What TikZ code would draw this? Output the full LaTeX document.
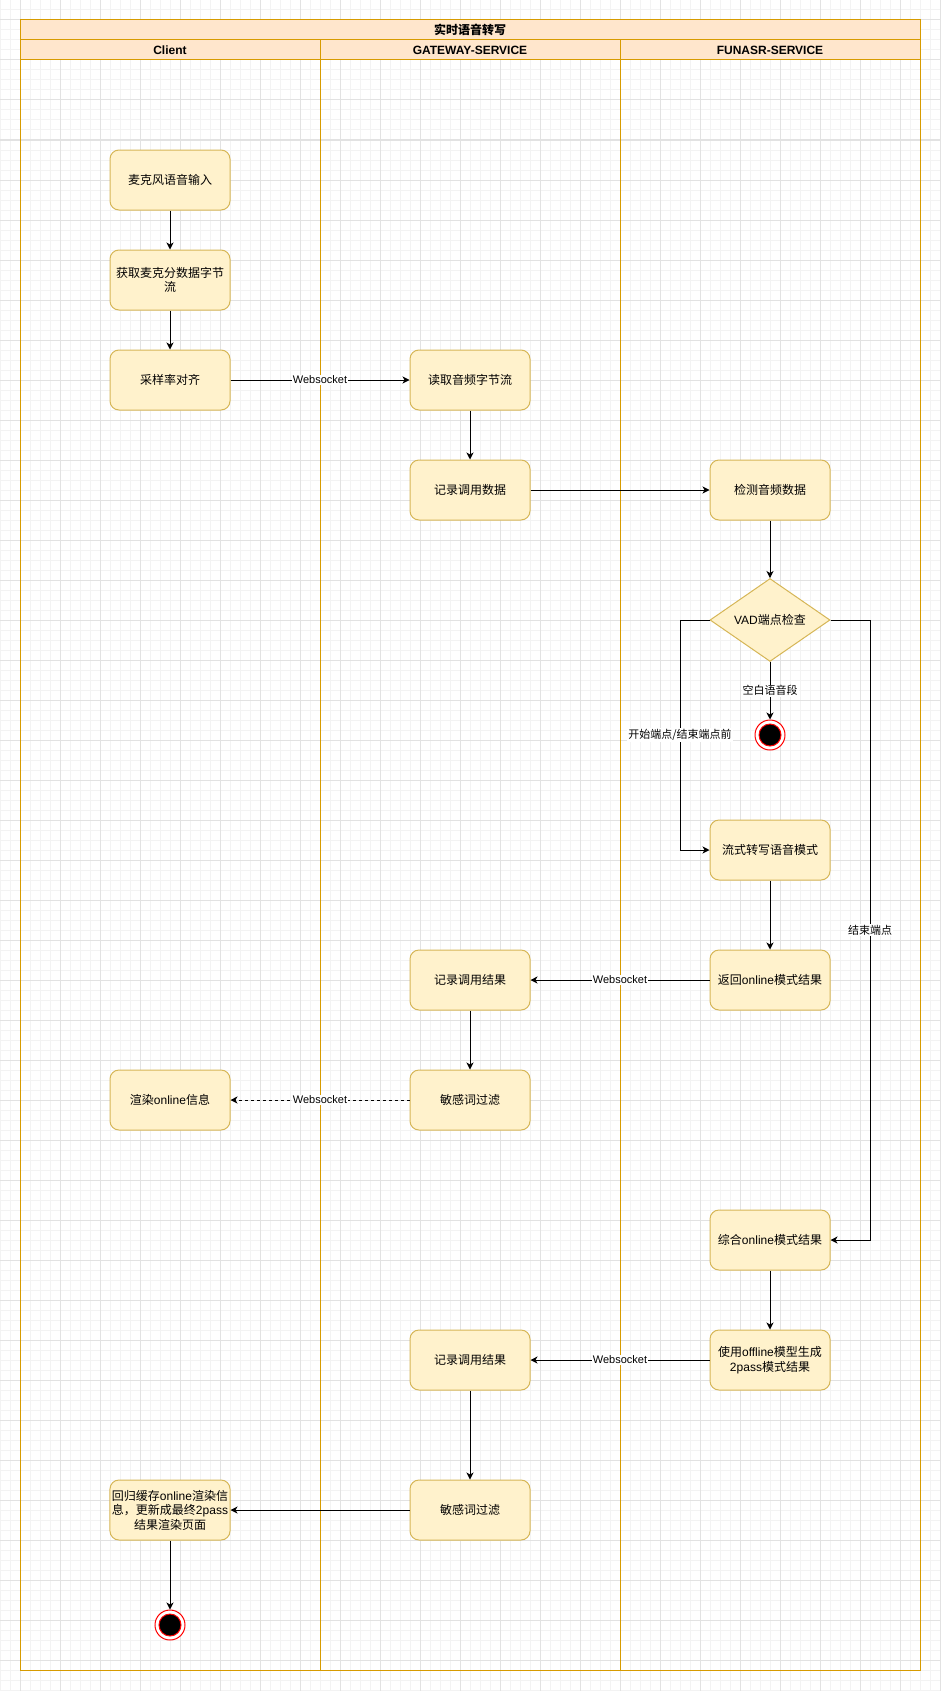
\documentclass[tikz,border=0pt]{standalone}
\usepackage{fontspec}
\setmainfont{Noto Sans CJK SC}
\newfontfamily\latf{Liberation Sans}
\usetikzlibrary{arrows.meta,shapes.geometric}
\definecolor{gridminor}{HTML}{F3F3F3}
\definecolor{gridmajor}{HTML}{E2E2E2}
\definecolor{poolfill}{HTML}{FFE6CC}
\definecolor{poolline}{HTML}{D79B00}
\definecolor{boxfill}{HTML}{FFF2CC}
\definecolor{boxline}{HTML}{D6B656}
\begin{document}
\begin{tikzpicture} [x=1pt, y=-1pt,
    box/.style={draw=boxline, fill=boxfill, line width=1pt, rounded corners=9pt,
      minimum width=120pt, minimum height=60pt, inner sep=2pt, align=center,
      font=\fontsize{12}{14.5}\selectfont},
    decide/.style={draw=boxline, fill=boxfill, line width=1pt, shape=diamond,
      minimum width=120pt, minimum height=80pt, inner sep=0pt,
      font=\fontsize{12}{14.5}\selectfont},
    stopdot/.style={circle, draw=red, fill=white, line width=1pt, minimum size=30pt, inner sep=0pt,
      path picture={\draw[red, line width=1pt, fill=black]
        (path picture bounding box.center) circle (11pt);}},
    flow/.style={-{Stealth[length=7pt, width=7pt, inset=2pt]}, line width=1pt},
    wire/.style={fill=white, inner sep=1pt, font=\fontsize{11}{13}\selectfont},
    lane/.style={font=\latf\bfseries\fontsize{12}{14}\selectfont}]
  \useasboundingbox (0,0) rectangle (941,1691);
  \fill[white] (0,0) rectangle (941,1691);
  \foreach \gx in {0,10,...,940} \draw[gridminor, line width=1pt] (\gx,0) -- (\gx,1691);
  \foreach \gy in {0,10,...,1690} \draw[gridminor, line width=1pt] (0,\gy) -- (941,\gy);
  \foreach \gx in {20,60,...,940} \draw[gridmajor, line width=1pt] (\gx,0) -- (\gx,1691);
  \foreach \gy in {20,60,...,1680} \draw[gridmajor, line width=1pt] (0,\gy) -- (941,\gy);

  \draw[poolline, fill=poolfill, line width=1pt] (20,20) rectangle (920,60);
  \draw[poolline, line width=1pt] (20,40) -- (920,40);
  \draw[poolline, line width=1pt] (20,20) rectangle (920,1670);
  \draw[poolline, line width=1pt] (320,40) -- (320,1670);
  \draw[poolline, line width=1pt] (620,40) -- (620,1670);
  \node[font=\bfseries\fontsize{12}{14}\selectfont] (title) at (470,30) {实时语音转写};
  \node[lane] (client) at (170,50) {Client};
  \node[lane] (gateway) at (470,50) {GATEWAY-SERVICE};
  \node[lane] (funasr) at (770,50) {FUNASR-SERVICE};

  \node[box] (mic) at (170,180) {麦克风语音输入};
  \node[box] (bytes) at (170,280) {获取麦克分数据字节\\流};
  \node[box] (align) at (170,380) {采样率对齐};
  \node[box] (read) at (470,380) {读取音频字节流};
  \node[box] (logdata) at (470,490) {记录调用数据};
  \node[box] (detect) at (770,490) {检测音频数据};
  \node[decide] (vad) at (770,620) {{\latf VAD}端点检查};
  \node[stopdot] (endA) at (770,735) {};
  \node[box] (stream) at (770,850) {流式转写语音模式};
  \node[box] (online) at (770,980) {返回{\latf online}模式结果};
  \node[box] (logres) at (470,980) {记录调用结果};
  \node[box] (filter) at (470,1100) {敏感词过滤};
  \node[box] (render) at (170,1100) {渲染{\latf online}信息};
  \node[box] (merge) at (770,1240) {综合{\latf online}模式结果};
  \node[box] (offline) at (770,1360) {使用{\latf offline}模型生成\\{\latf 2pass}模式结果};
  \node[box] (logres2) at (470,1360) {记录调用结果};
  \node[box] (filter2) at (470,1510) {敏感词过滤};
  \node[box] (final) at (170,1510) {回归缓存{\latf online}渲染信\\息，更新成最终{\latf 2pass}\\结果渲染页面};
  \node[stopdot] (endB) at (170,1625) {};
  \coordinate (lbend) at (680,620);
  \coordinate (rbend) at (870,620);

  \draw[flow] (mic) -- (bytes);
  \draw[flow] (bytes) -- (align);
  \draw[flow] (align) -- node[wire] {\latf Websocket} (read);
  \draw[flow] (read) -- (logdata);
  \draw[flow] (logdata) -- (detect);
  \draw[flow] (detect) -- (vad);
  \draw[flow] (vad) -- node[wire] {空白语音段} (endA);
  \draw[flow] (vad.west) -- (lbend) |- node[wire, pos=0.25] {开始端点/结束端点前} (stream.west);
  \draw[flow] (vad.east) -- (rbend) |- node[wire, pos=0.25] {结束端点} (merge.east);
  \draw[flow] (stream) -- (online);
  \draw[flow] (online) -- node[wire] {\latf Websocket} (logres);
  \draw[flow] (logres) -- (filter);
  \draw[flow, dash pattern=on 3pt off 3pt] (filter) -- node[wire] {\latf Websocket} (render);
  \draw[flow] (merge) -- (offline);
  \draw[flow] (offline) -- node[wire] {\latf Websocket} (logres2);
  \draw[flow] (logres2) -- (filter2);
  \draw[flow] (filter2) -- (final);
  \draw[flow] (final) -- (endB);
\end{tikzpicture}
\end{document}
